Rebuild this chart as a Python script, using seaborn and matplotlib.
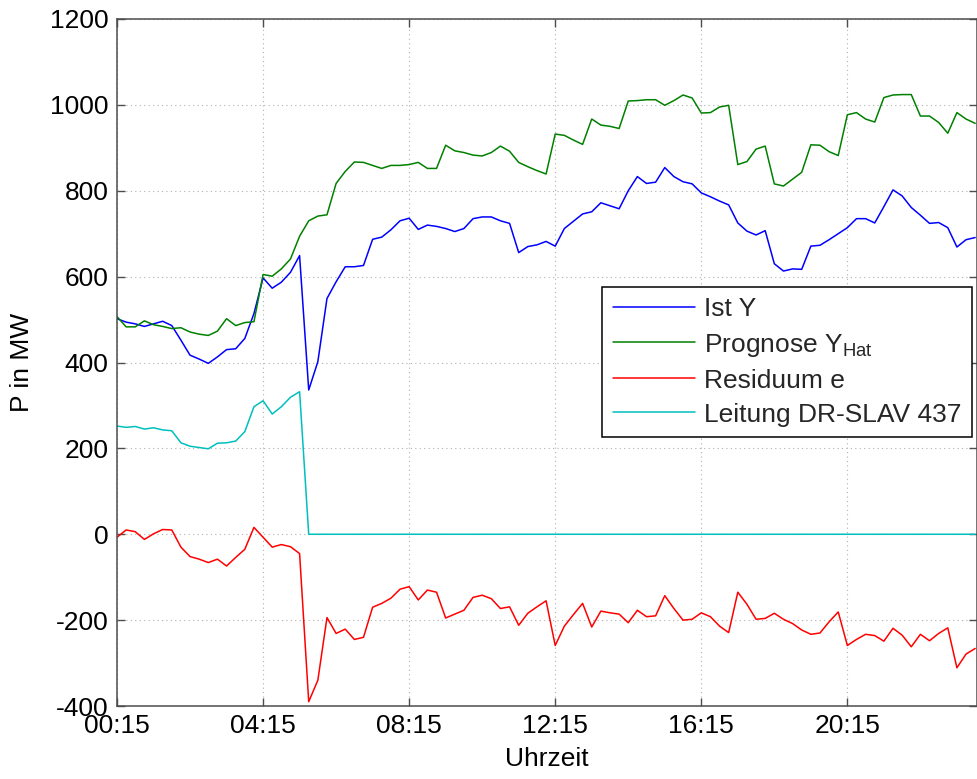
import numpy as np
import pandas as pd
import matplotlib
matplotlib.use("Agg")
import matplotlib.pyplot as plt
import seaborn as sns

# Quarter-hour values from 00:15 onwards (MW)
ist_y = [
    502, 494, 490, 484, 490, 496, 486, 452, 417, 408, 398, 413, 430, 432, 456, 514,
    597, 573, 587, 610, 649, 336, 402, 549, 588,
    623, 623, 626, 687, 692, 709, 730, 736, 710, 720, 717, 712, 705, 712, 735, 739,
    739, 730, 724, 656, 670, 674, 682, 671, 712, 729, 746, 751, 772, 765, 758, 800, 833,
    817, 820, 854, 833, 821, 816, 795, 786, 776, 767, 725, 706, 697, 707, 630, 613,
    618, 617, 671, 673, 686, 700, 714, 735, 735, 725, 763, 802, 788, 761, 743, 724,
    726, 714, 669, 686, 691,
]
prognose_y_hat = [
    507, 483, 483, 497, 488, 484, 479, 481, 471, 466, 463, 473, 502, 486, 493, 495,
    605, 601, 618, 641, 694,
    730, 741, 744, 817, 845, 867, 866, 859, 852, 859, 859, 861, 866, 852, 852, 906,
    893, 889, 883, 881, 889, 904, 892, 866, 856, 847, 839, 932, 929, 918, 908, 967,
    953, 950, 945, 1009, 1010,
    1012, 1012, 999, 1010, 1023, 1016, 981, 982, 995, 999, 861, 868, 897, 904, 816,
    811, 827, 843, 907, 906, 891, 882, 977, 982, 967, 960, 1017, 1023, 1024, 1024,
    974, 974, 959, 934, 982, 967, 957,
]
residuum_e = [
    -7, 10, 6, -12, 1, 11, 10, -30, -52, -58, -66, -58, -74, -54, -35, 16,
    -7, -30, -24, -29, -45,
    -390, -340, -194, -231, -221, -245, -240, -170, -161, -149, -128, -122, -153, -130,
    -135, -195, -186, -177, -147, -142, -150, -173, -169, -212, -184, -169, -155, -259,
    -214, -187, -161, -216, -179, -183, -186, -206, -177,
    -192, -190, -143, -173, -200, -198, -183, -192, -214, -229, -135, -163, -198, -196,
    -184, -198, -208, -223, -233, -230, -204, -181, -259, -245, -233, -236, -249, -219,
    -235, -262, -233, -248, -231, -218, -311, -279, -266,
]
leitung_dr_slav_437 = [
    252, 249, 251, 245, 248, 243, 241, 213, 205, 202, 199, 212, 213, 217, 239, 297,
    311, 280, 297, 319, 332,
    0, 0, 0, 0, 0, 0, 0, 0, 0, 0,
    0, 0, 0, 0, 0, 0, 0, 0, 0, 0,
    0, 0, 0, 0, 0, 0, 0, 0, 0, 0,
    0, 0, 0, 0, 0, 0, 0, 0, 0, 0,
    0, 0, 0, 0, 0, 0, 0, 0, 0, 0,
    0, 0, 0, 0, 0, 0, 0, 0, 0, 0,
    0, 0, 0, 0, 0, 0, 0, 0, 0, 0,
    0, 0, 0, 0,
]

series_labels = ["Ist Y", r"Prognose Y$_{\mathregular{Hat}}$", "Residuum e", "Leitung DR-SLAV 437"]
series_colors = ["#0000ff", "#008000", "#ff0000", "#00bfbf"]
tick_labels = ["00:15", "04:15", "08:15", "12:15", "16:15", "20:15"]
y_ticks = [-400, -200, 0, 200, 400, 600, 800, 1000, 1200]

sns.set_theme(style="white")
plt.rcParams["font.family"] = ["Liberation Sans", "DejaVu Sans"]
plt.rcParams["mathtext.fontset"] = "custom"
plt.rcParams["mathtext.rm"] = "Liberation Sans"

FS = 19

n = len(ist_y)
hours = 0.25 + 0.25 * np.arange(n)
frames = []
for label, values in zip(series_labels, [ist_y, prognose_y_hat, residuum_e, leitung_dr_slav_437]):
    frames.append(pd.DataFrame({"Uhrzeit": hours, "P": values, "Reihe": label}))
df = pd.concat(frames, ignore_index=True)

fig = plt.figure(figsize=(9.78, 7.79), dpi=100)
ax = fig.add_axes([117 / 978, 73 / 779, 860 / 978, 687 / 779])

sns.lineplot(data=df, x="Uhrzeit", y="P", hue="Reihe", hue_order=series_labels,
             palette=series_colors, linewidth=1.1, ax=ax, legend=True)

ax.set_xlim(0.25, 23.8)
ax.set_ylim(-400, 1200)
ax.set_xticks([0.25 + 4 * k for k in range(len(tick_labels))])
ax.set_xticklabels(tick_labels)
ax.set_yticks(y_ticks)
ax.set_yticklabels([str(v) for v in y_ticks])

ax.grid(True, linestyle=(0, (1, 3)), color="#b0b0b0", linewidth=0.8)
for sp in ax.spines.values():
    sp.set_visible(True)
    sp.set_color("#4d4d4d")
    sp.set_linewidth(1.1)
ax.tick_params(axis="both", which="major", direction="in", length=6, width=1.0,
               color="#4d4d4d", labelsize=FS, labelcolor="black",
               top=True, right=True, bottom=True, left=True, pad=6)

ax.set_xlabel("Uhrzeit", fontsize=FS, color="black", labelpad=6)
ax.set_ylabel("P in MW", fontsize=FS, color="black")
ax.yaxis.set_label_coords(-0.097, 0.5)

handles, labels = ax.get_legend_handles_labels()
leg = ax.legend(handles, labels, loc="upper right", bbox_to_anchor=(0.994, 0.61),
                borderaxespad=0.0, fontsize=FS, frameon=True, fancybox=False,
                framealpha=1, edgecolor="black", handlelength=3.1, handletextpad=0.35,
                labelspacing=0.38, borderpad=0.4)
leg.get_frame().set_linewidth(1.1)

fig.savefig("out.png", dpi=100, facecolor="white")
